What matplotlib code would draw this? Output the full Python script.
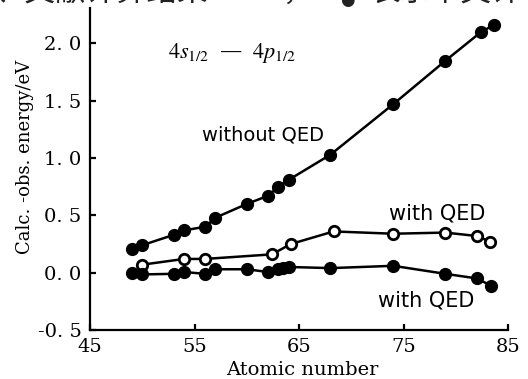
import numpy as np
import matplotlib.pyplot as plt

plt.rcParams['font.family'] = ['DejaVu Serif']
plt.rcParams['mathtext.fontset'] = 'stix'

# without QED (filled)
z_noqed = [49, 50, 53, 54, 56, 57, 60, 62, 63, 64, 68, 74, 79, 82.4, 83.6]
v_noqed = [0.21, 0.24, 0.33, 0.37, 0.40, 0.48, 0.60, 0.67, 0.75, 0.81, 1.03, 1.47, 1.85, 2.10, 2.16]

# with QED, other calculation (open)
z_qed_open = [50, 54, 56, 62.4, 64.2, 68.3, 74, 79, 82, 83.3]
v_qed_open = [0.07, 0.12, 0.12, 0.16, 0.25, 0.36, 0.34, 0.35, 0.32, 0.27]

# with QED, this work (filled)
z_qed = [49, 50, 53, 54, 56, 57, 60, 62, 63, 63.5, 64, 68, 74, 79, 82, 83.4]
v_qed = [0.0, -0.015, -0.01, 0.006, -0.01, 0.03, 0.03, 0.006, 0.03, 0.04, 0.05, 0.04, 0.06, -0.01, -0.05, -0.115]

xticks = [45, 55, 65, 75, 85]
yticks = [-0.5, 0.0, 0.5, 1.0, 1.5, 2.0]
ytick_labels = ['-0. 5', '0. 0', '0. 5', '1. 0', '1. 5', '2. 0']

fig = plt.figure(figsize=(5.28, 3.79), dpi=100)
ax = fig.add_axes([0.1705, 0.1293, 0.792, 0.8497])

ax.plot(z_noqed, v_noqed, '-o', color='black', lw=1.8, ms=8.5)
ax.plot(z_qed_open, v_qed_open, '-o', color='black', mfc='white', mec='black',
        mew=2, lw=1.8, ms=7.5)
ax.plot(z_qed, v_qed, '-o', color='black', lw=1.8, ms=8.5)

ax.set_xlim(45, 85)
ax.set_ylim(-0.5, 2.31)
ax.set_xticks(xticks)
ax.set_yticks(yticks)
ax.set_yticklabels(ytick_labels)

for s in ['top', 'right']:
    ax.spines[s].set_visible(False)
for s in ['left', 'bottom']:
    ax.spines[s].set_linewidth(1.6)
ax.tick_params(direction='in', length=4, width=1.6, labelsize=14, pad=6)

ax.set_xlabel('Atomic number', fontsize=14)
ax.xaxis.set_label_coords(0.507, -0.095)
ax.set_ylabel('Calc. -obs. energy/eV', fontsize=13)
ax.yaxis.set_label_coords(-0.135, 0.537)

ax.text(58.6, 1.92, r'$4s_{1/2}\ \ $—$\ \ 4p_{1/2}$', fontsize=16, ha='center', va='center')
ax.text(61.5, 1.20, 'without QED', family='DejaVu Sans', fontsize=14, ha='center', va='center')
ax.text(78.2, 0.52, 'with QED', family='DejaVu Sans', fontsize=15, ha='center', va='center')
ax.text(77.2, -0.24, 'with QED', family='DejaVu Sans', fontsize=15, ha='center', va='center')

# cut-off caption at the top of the scan
cap = dict(fontsize=22, va='center', color='#222222', family=['Noto Sans CJK SC', 'DejaVu Sans'])
fig.text(-0.01, 1.02, '、文献计算结果', **cap)
fig.text(0.535, 1.02, '，', **cap)
fig.text(0.645, 1.0, '●', fontsize=12, va='center', color='#222222', family='DejaVu Sans')
fig.text(0.70, 1.02, '表示本文计', **cap)

fig.savefig('out.png', dpi=100)
